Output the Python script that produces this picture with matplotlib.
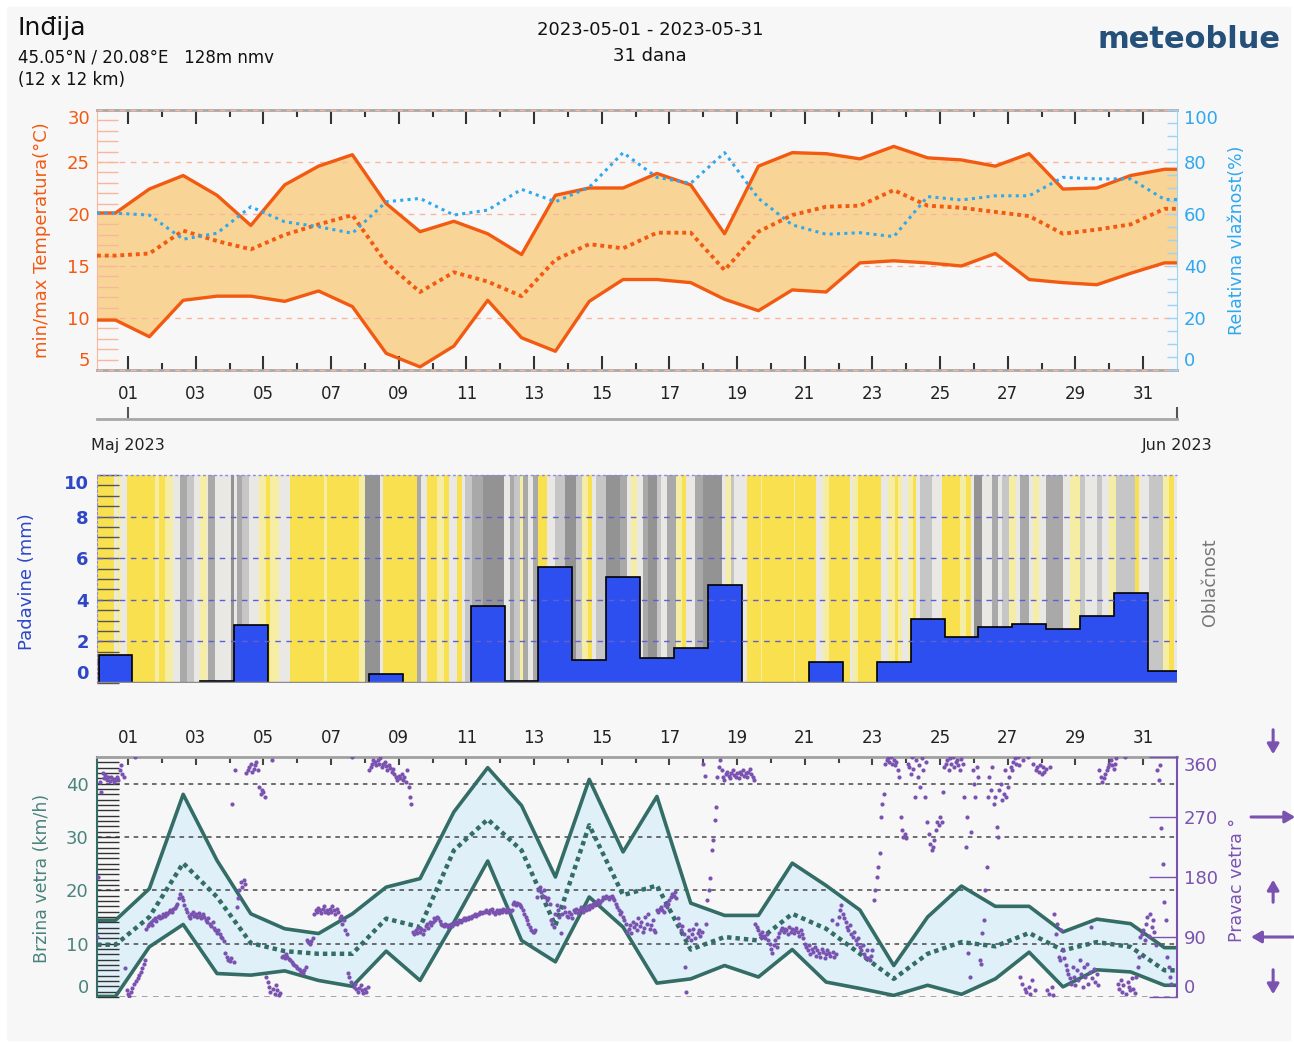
import numpy as np
import matplotlib
matplotlib.use('Agg')
import matplotlib.pyplot as plt
from matplotlib.colors import ListedColormap

# time axis: days since 2023-05-01 00:00
XMIN, XMAX = -22 / 24, 31.0
day_x = np.arange(32) - 0.37          # daily values (Apr 30 .. May 31)

t_max = [20.1, 22.4, 23.7, 21.8, 18.9, 22.8, 24.6, 25.7, 21.0, 18.3, 19.3, 18.1, 16.1, 21.8, 22.5, 22.5,
         23.9, 22.8, 18.1, 24.6, 25.9, 25.8, 25.3, 26.5, 25.4, 25.2, 24.6, 25.8, 22.4, 22.5, 23.7, 24.3]
t_min = [9.8, 8.2, 11.7, 12.1, 12.1, 11.6, 12.6, 11.1, 6.6, 5.3, 7.3, 11.7, 8.1, 6.8, 11.6, 13.7,
         13.7, 13.4, 11.8, 10.7, 12.7, 12.5, 15.3, 15.5, 15.3, 15.0, 16.2, 13.7, 13.4, 13.2, 14.3, 15.3]
t_mean = [16.0, 16.2, 18.4, 17.4, 16.6, 18.0, 19.0, 19.9, 15.3, 12.5, 14.4, 13.5, 12.1, 15.6, 17.1, 16.7,
          18.2, 18.2, 14.6, 18.3, 19.9, 20.7, 20.8, 22.3, 20.8, 20.6, 20.2, 19.8, 18.1, 18.5, 19.0, 20.5]
humidity = [60.3, 59.6, 50.3, 52.6, 62.8, 57.0, 55.1, 52.6, 64.7, 66.0, 59.6, 61.5, 69.5, 64.7, 70.3, 83.6,
            74.1, 71.8, 83.6, 66.0, 55.8, 52.2, 52.8, 51.3, 66.7, 65.4, 67.0, 67.0, 74.1, 73.5, 73.5, 65.6]

precip = [1.36, 0, 0, 0.1, 2.8, 0, 0, 0, 0.45, 0, 0, 3.7, 0.1, 5.6, 1.1, 5.1,
          1.2, 1.7, 4.7, 0, 0, 1.0, 0, 1.0, 3.1, 2.2, 2.7, 2.85, 2.6, 3.2, 4.35, 0.6]

# hourly cloud cover class, run-length coded from the left edge (0 sunny .. 5 overcast)
cloud_level = [0, 2, 1, 2, 0, 1, 0, 1, 2, 4, 3, 2, 1, 2, 4, 2, 5, 2, 4, 3, 2, 2, 1, 0, 1, 2, 0, 1, 0, 1, 5, 2,
               0, 4, 2, 0, 1, 0, 2,
               0, 2, 3, 4, 5, 2, 4, 3, 1, 4, 2, 4, 0, 2, 3, 5, 3, 1, 0, 2, 3, 5, 4, 2, 1, 2, 4, 5, 3,
               2, 4, 1, 0, 2, 4, 5, 2, 1, 3, 2, 0, 1, 0, 1, 0,
               2, 1, 0, 2, 1, 0, 2, 1, 0, 1, 2, 1, 0, 2, 3, 2, 0, 1, 0, 2, 5, 2, 4, 2, 3, 1, 2, 4, 2,
               1, 2, 4, 2, 1, 3, 2, 3, 2, 1, 3, 0, 2, 3, 1, 0, 2]
cloud_hours = [12, 2, 3, 4, 20, 3, 4, 6, 5, 5, 5, 4, 5, 1, 5, 11, 2, 2, 4, 5, 3, 4, 5, 3, 6, 8, 24, 2, 23, 4,
               11, 2, 24, 3, 4, 7, 5, 4, 5,
               4, 2, 5, 8, 15, 4, 3, 4, 2, 4, 3, 4, 6, 6, 7, 8, 4, 4, 3, 3, 7, 10, 5, 3, 4, 4, 4, 6, 3,
               4, 7, 4, 3, 6, 6, 13, 3, 4, 2, 9, 10, 1, 22, 1, 15,
               5, 4, 15, 2, 4, 16, 5, 5, 2, 3, 4, 4, 2, 3, 8, 7, 13, 4, 4, 2, 6, 7, 4, 3, 5, 5, 3, 6, 3,
               4, 5, 12, 5, 7, 4, 8, 4, 5, 5, 13, 3, 7, 10, 4, 4, 3]
cloud_colors = ['#f9e04f', '#f6eda4', '#e9e8e4', '#c6c6c6', '#a9a9a9', '#939393']

wind_max = [14.4, 20.3, 38.0, 25.6, 15.6, 12.8, 11.9, 15.6, 20.6, 22.2, 34.7, 43.0, 35.9, 22.5, 40.8, 27.2,
            37.6, 17.6, 15.3, 15.3, 25.1, 20.9, 16.3, 5.9, 15.0, 20.8, 17.0, 17.0, 12.2, 14.6, 13.75, 9.25]
wind_min = [0.1, 9.4, 13.6, 4.4, 4.1, 4.9, 3.1, 2.0, 8.6, 3.1, 14.0, 25.5, 10.6, 6.6, 18.75, 13.1,
            2.6, 3.4, 5.9, 3.75, 8.9, 2.8, 1.6, 0.3, 2.2, 0.5, 3.4, 8.4, 1.9, 5.1, 4.7, 2.2]
wind_mean = [9.8, 15.0, 25.1, 18.75, 10.1, 8.6, 8.1, 8.1, 14.7, 13.1, 27.5, 33.3, 27.5, 13.4, 32.2, 19.1,
             20.9, 8.9, 11.25, 10.6, 15.6, 12.8, 8.1, 3.4, 8.1, 10.3, 9.5, 12.0, 8.75, 10.3, 9.4, 5.0]

# hourly wind direction (deg), one row per day starting Apr 30 00:00
wind_dir = [
    [None, None, 90, 180, 322, 307, 336, 328, 333, 326, 330, 324, 330, 327, 322, 325, 330, 326, 340, 348, 335, 330, 43, 10],
    [5, 2, 8, 14, 20, 360, 24, 28, 33, 38, 44, 50, 55, 102, 106, 110, 112, 108, 115, 118, 114, 120, 122, 118],
    [120, 124, 122, 126, 125, 128, 130, 128, 132, 134, 136, 140, 148, 155, 150, 145, 138, 132, 128, 122, 118, 125, 128, 122],
    [124, 120, 126, 122, 118, 124, 120, 116, 112, 118, 110, 106, 112, 104, 100, 96, 100, 94, 90, 88, 84, 66, 60, 56],
    [54, 58, 290, 52, 340, 135, 148, 160, 172, 165, 175, 170, 336, 340, 345, 350, 338, 342, 348, 352, 340, 315, 305, 310],
    [308, 300, 30, 22, 15, 8, 355, 12, 5, 18, 10, 3, 6, 60, 62, 58, 64, 60, 57, 55, 52, 50, 48, 46],
    [44, 42, 40, 38, 36, 40, 45, 85, 82, 80, 84, 88, 125, 130, 128, 134, 130, 126, 132, 136, 128, 130, 126, 132],
    [128, 136, 130, 125, 132, 128, 118, 122, 110, 115, 100, 95, 36, 30, 22, 360, 15, 20, 12, 8, 14, 18, 10, 6],
    [12, 8, 15, 340, 345, 350, 356, 352, 348, 355, 350, 358, 345, 350, 352, 346, 340, 348, 344, 338, 342, 335, 330, 326],
    [332, 328, 335, 325, 330, 322, 340, 315, 300, 290, 98, 95, 100, 96, 104, 98, 102, 95, 100, 106, 110, 104, 112, 108],
    [112, 118, 116, 120, 118, 114, 110, 108, 106, 110, 108, 105, 108, 110, 107, 110, 112, 110, 113, 115, 112, 116, 118, 115],
    [118, 117, 120, 118, 122, 121, 124, 122, 125, 124, 127, 126, 128, 127, 130, 128, 126, 130, 132, 128, 125, 128, 130, 126],
    [130, 128, 132, 130, 128, 132, 130, 128, 130, 140, 142, 138, 141, 140, 138, 135, 130, 125, 120, 115, 110, 105, 100, 98],
    [97, 100, 150, 160, 165, 158, 152, 160, 150, 145, 148, 140, 115, 110, 105, 125, 138, 130, 120, 96, 125, 135, 128, 122],
    [120, 128, 125, 118, 130, 128, 132, 126, 130, 135, 132, 128, 134, 130, 136, 132, 138, 135, 140, 138, 142, 145, 140, 143],
    [146, 150, 148, 152, 150, 147, 150, 152, 148, 145, 140, 135, 130, 125, 128, 120, 115, 110, 98, 102, 108, 96, 112, 105],
    [110, 100, 118, 106, 112, 98, 104, 120, 110, 125, 102, 108, 115, 100, 97, 130, 128, 132, 135, 130, 128, 138, 135, 140],
    [145, 150, 155, 152, 157, 148, 118, 110, 100, 106, 95, 45, 7, 90, 100, 85, 95, 102, 88, 110, 96, 100, 92, 98],
    [350, 332, 110, 145, 160, 178, 220, 235, 265, 285, 330, 345, 355, 340, 330, 325, 335, 338, 332, 328, 336, 340, 333, 330],
    [336, 328, 338, 334, 340, 332, 336, 330, 338, 342, 335, 330, 325, 110, 105, 100, 95, 90, 98, 92, 88, 95, 85, 80],
    [72, 66, 78, 85, 75, 90, 96, 100, 104, 98, 102, 100, 95, 105, 98, 102, 96, 100, 104, 98, 92, 100, 95, 88],
    [80, 75, 70, 78, 65, 72, 68, 75, 62, 70, 66, 60, 72, 68, 58, 64, 70, 66, 62, 115, 68, 60, 64, 110],
    [120, 130, 138, 125, 118, 112, 105, 100, 108, 95, 90, 98, 85, 80, 88, 75, 70, 78, 65, 60, 70, 58, 55, 62],
    [70, 145, 160, 180, 195, 216, 270, 290, 305, 350, 355, 358, 352, 360, 350, 356, 348, 352, 340, 330, 270, 250, 240, 245],
    [238, 350, 345, 335, 360, 342, 300, 355, 330, 348, 315, 358, 340, 300, 352, 262, 245, 230, 220, 225, 235, 250, 262, 258],
    [270, 262, 307, 345, 350, 355, 340, 358, 350, 360, 345, 352, 355, 348, 340, 357, 350, 300, 225, 270, 66, 30, 247, 340],
    [320, 300, 345, 330, 55, 50, 96, 115, 160, 195, 300, 330, 310, 345, 290, 300, 255, 240, 310, 320, 295, 305, 340, 300],
    [315, 330, 345, 340, 352, 358, 350, 360, 348, 30, 20, 355, 12, 8, 360, 15, 5, 25, 350, 10, 340, 345, 338, 348],
    [335, 345, 338, 342, 10, 5, 345, 15, 3, 125, 95, 110, 60, 55, 100, 70, 58, 48, 40, 35, 28, 20, 45, 30],
    [18, 40, 25, 55, 35, 15, 45, 30, 50, 20, 38, 105, 28, 42, 22, 35, 18, 340, 330, 322, 328, 335, 340, 345],
    [350, 355, 348, 342, 350, 358, 20, 12, 25, 8, 18, 360, 5, 22, 15, 10, 28, 12, 6, 30, 45, 60, 90, 95],
    [100, 85, 110, 120, 92, 125, 105, 115, 98, 78, 340, 325, 348, 253, 200, 143, 115, 60, 45, 30, 20],
]

day_ticks = np.arange(0, 31, 2)
day_labels = ['%02d' % (d + 1) for d in day_ticks]

ORANGE = '#f25a12'
ORANGE_L = '#f8b79c'
BLUE_H = '#2fa8ee'
BLUE_P = '#2e47c8'
TEAL = '#336d65'
TEAL_L = '#4a847c'
PURPLE = '#7a52b0'

W, H = 1294, 1043
fig = plt.figure(figsize=(W / 100, H / 100), dpi=100)
fig.patch.set_facecolor('white')
fig.add_artist(plt.Rectangle((7 / W, 3 / H), 1283 / W, 1033 / H, transform=fig.transFigure,
                             color='#f7f7f7', zorder=-10))


def rect(x0, y0, x1, y1):
    return [x0 / W, 1 - y1 / H, (x1 - x0) / W, (y1 - y0) / H]


def padded(v):
    return np.r_[v[0], v, v[-1]]


x_line = np.r_[XMIN, day_x, XMAX]


def edge_labels(axis):
    ticks = axis.get_major_ticks()
    ticks[0].label1.set_va('bottom')
    ticks[-1].label1.set_va('top')
    ticks[0].label2.set_va('bottom')
    ticks[-1].label2.set_va('top')


# header
fig.text(18 / W, 1 - 28 / H, 'Inđija', fontsize=18, color='#111', va='center')
fig.text(18 / W, 1 - 57 / H, '45.05°N / 20.08°E   128m nmv', fontsize=12, color='#111', va='center')
fig.text(18 / W, 1 - 80 / H, '(12 x 12 km)', fontsize=12, color='#111', va='center')
fig.text(650 / W, 1 - 30 / H, '2023-05-01 - 2023-05-31', fontsize=13, color='#111', ha='center', va='center')
fig.text(650 / W, 1 - 56 / H, '31 dana', fontsize=13, color='#111', ha='center', va='center')
fig.text(1281 / W, 1 - 40 / H, 'meteoblue', fontsize=22, color='#24507a', ha='right', va='center',
         fontweight='bold')

# ---- temperature / humidity ----
ax_t = fig.add_axes(rect(97, 110, 1177, 370))
ax_t.set_facecolor('none')
ax_t.set_xlim(XMIN, XMAX)
ax_t.set_ylim(5, 30)
ax_t.fill_between(x_line, padded(t_min), padded(t_max), color='#f8d596', lw=0, zorder=1)
for v in (10, 15, 20, 25):
    ax_t.axhline(v, color=ORANGE_L, lw=1, ls=(0, (4, 4)), zorder=1.5)
ax_t.plot(x_line, padded(t_max), color=ORANGE, lw=2.4, zorder=3)
ax_t.plot(x_line, padded(t_min), color=ORANGE, lw=2.4, zorder=3)
ax_t.plot(x_line, padded(t_mean), color=ORANGE, lw=2.8, ls=(0, (1, 1)), zorder=3)
ax_t.set_xticks(day_ticks, day_labels)
ax_t.set_xticks(day_ticks + 1, minor=True)
ax_t.set_xticks(np.arange(1, 31, 2), minor=True)
ax_t.tick_params(axis='x', which='major', direction='in', length=10, width=1.5, color='#333',
                 top=True, bottom=True, labelsize=12, pad=11, labelcolor='#222')
ax_t.tick_params(axis='x', which='minor', direction='in', length=5, width=1.5, color='#333',
                 top=True, bottom=True)
ax_t.set_yticks([5, 10, 15, 20, 25, 30])
ax_t.set_yticks(np.arange(5, 31, 1), minor=True)
ax_t.tick_params(axis='y', which='both', direction='in', length=15, width=1, color=ORANGE_L,
                 labelcolor=ORANGE, labelsize=13, pad=5)
edge_labels(ax_t.yaxis)
for s in ('top', 'bottom'):
    ax_t.spines[s].set_color('#a8a8a8')
    ax_t.spines[s].set_linewidth(2)
ax_t.spines['left'].set_color(ORANGE_L)
ax_t.spines['right'].set_visible(False)
for v in (5, 30):
    ax_t.axhline(v, color=ORANGE_L, lw=1, ls=(0, (4, 4)), zorder=4, clip_on=False)

ax_h = ax_t.twinx()
ax_h.set_ylim(0, 100)
ax_h.plot(x_line, padded(humidity), color=BLUE_H, lw=2.2, ls=(0, (1, 1.4)), zorder=3)
ax_h.set_yticks([0, 20, 40, 60, 80, 100])
ax_h.set_yticks(np.arange(0, 101, 5), minor=True)
ax_h.tick_params(axis='y', which='both', direction='in', length=7, width=1, color='#9fd3f5',
                 labelcolor=BLUE_H, labelsize=13, pad=5)
edge_labels(ax_h.yaxis)
ax_h.spines['right'].set_color('#9fd3f5')
for s in ('top', 'bottom', 'left'):
    ax_h.spines[s].set_visible(False)

fig.text(42 / W, 1 - 240 / H, 'min/max Temperatura(°C)', rotation=90, fontsize=13, color=ORANGE,
         ha='center', va='center')
fig.text(1237 / W, 1 - 240 / H, 'Relativna vlažnost(%)', rotation=90, fontsize=12.5, color=BLUE_H,
         ha='center', va='center')

# month row
ax_d = fig.add_axes(rect(97, 418, 1177, 419))
ax_d.set_facecolor('none')
ax_d.set_xlim(XMIN, XMAX)
ax_d.set_yticks([])
for s in ('top', 'left', 'right'):
    ax_d.spines[s].set_visible(False)
ax_d.spines['bottom'].set_color('#a8a8a8')
ax_d.spines['bottom'].set_linewidth(2)
ax_d.set_xticks([0, 31], ['Maj 2023', 'Jun 2023'])
ax_d.tick_params(axis='x', direction='in', length=9, width=1.5, color='#555', labelsize=11.5,
                 pad=14, labelcolor='#222')

# ---- precipitation / cloud cover ----
ax_p = fig.add_axes(rect(97, 475, 1177, 683))
ax_p.set_facecolor('none')
ax_p.set_xlim(XMIN, XMAX)
ax_p.set_ylim(0, 10)
levels = np.repeat(cloud_level, cloud_hours)
hour_edges = (XMIN * 24 + np.arange(len(levels) + 1)) / 24
ax_p.pcolormesh(hour_edges, [0, 10], levels[None, :], cmap=ListedColormap(cloud_colors),
                vmin=-0.5, vmax=5.5, shading='flat', zorder=0)
bar_edges = np.r_[day_x - 0.5, day_x[-1] + 0.5]
ax_p.stairs(precip, bar_edges, fill=True, color='#2d4ff0', zorder=2)
ax_p.stairs(precip, bar_edges, color='black', lw=1.2, zorder=3)
ax_p.axhline(0, color='#8c8c8c', lw=2.5, zorder=3.5)
for v in (2, 4, 6, 8):
    ax_p.axhline(v, color='#5f5fcf', lw=1, ls=(0, (4, 4)), zorder=4)
ax_p.axhline(10, color='#8a8ae6', lw=1, ls=(0, (2, 2)), zorder=4, clip_on=False)
ax_p.set_xticks([])
ax_p.set_yticks(np.arange(0, 11, 2))
ax_p.set_yticks(np.arange(0, 10.1, 0.5), minor=True)
ax_p.tick_params(axis='y', which='both', direction='in', length=16, width=1, color='#555',
                 labelcolor=BLUE_P, labelsize=13, pad=6)
for lab in ax_p.get_yticklabels():
    lab.set_fontweight('bold')
edge_labels(ax_p.yaxis)
for s in ('top', 'bottom', 'right'):
    ax_p.spines[s].set_visible(False)
ax_p.spines['left'].set_color('#8a8ae6')
ax_p.spines['left'].set_linestyle((0, (2, 2)))
fig.text(27 / W, 1 - 582 / H, 'Padavine (mm)', rotation=90, fontsize=13, color=BLUE_P,
         ha='center', va='center')
fig.text(1210 / W, 1 - 582 / H, 'Oblačnost', rotation=90, fontsize=12.5, color='#777',
         ha='center', va='center')

# ---- wind ----
ax_w = fig.add_axes(rect(97, 757, 1177, 997))
ax_w.set_facecolor('none')
ax_w.set_xlim(XMIN, XMAX)
ax_w.set_ylim(0, 45)
ax_w.fill_between(x_line, padded(wind_min), padded(wind_max), color='#dff0f9', lw=0, zorder=1)
for v in (10, 20, 30, 40):
    ax_w.axhline(v, color='#474747', lw=1.1, ls=(0, (3, 3)), zorder=1.5)
ax_w.axhline(0, color='#9a9a9a', lw=2, ls=(0, (2, 2)), zorder=1.5)
ax_w.plot(x_line, padded(wind_max), color=TEAL, lw=2.6, zorder=3)
ax_w.plot(x_line, padded(wind_min), color=TEAL, lw=2.6, zorder=3)
ax_w.plot(x_line, padded(wind_mean), color=TEAL, lw=3.2, ls=(0, (1, 0.9)), zorder=3)
ax_w.xaxis.tick_top()
ax_w.set_xticks(day_ticks, day_labels)
ax_w.set_xticks(np.arange(1, 31, 2), minor=True)
ax_w.tick_params(axis='x', which='major', direction='in', length=6, width=1.5, color='#444',
                 labelsize=12, pad=7, labelcolor='#222')
ax_w.tick_params(axis='x', which='minor', direction='in', length=4, width=1.5, color='#444')
ax_w.set_yticks([0, 10, 20, 30, 40])
ax_w.set_yticks(np.arange(0, 46, 1), minor=True)
ax_w.tick_params(axis='y', which='both', direction='in', length=16, width=1, color='#333',
                 labelcolor=TEAL_L, labelsize=13, pad=6)
ax_w.yaxis.get_major_ticks()[0].label1.set_va('bottom')
ax_w.spines['top'].set_color('#a0a0a0')
ax_w.spines['top'].set_linewidth(2)
ax_w.spines['bottom'].set_visible(False)
ax_w.spines['left'].set_color(TEAL)
ax_w.spines['left'].set_linewidth(1.5)
ax_w.spines['right'].set_visible(False)

ax_wd = ax_w.twinx()
ax_wd.set_ylim(0, 360)
dir_t, dir_v = [], []
for d, row in enumerate(wind_dir):
    for hr, val in enumerate(row):
        if val is not None:
            dir_t.append((d * 24 + hr - 24) / 24)
            dir_v.append(val)
ax_wd.scatter(dir_t, dir_v, s=9, color=PURPLE, lw=0, zorder=5, clip_on=True)
ax_wd.set_yticks([0, 90, 180, 270, 360])
ax_wd.tick_params(axis='y', direction='in', length=20, width=1, color=PURPLE,
                  labelcolor=PURPLE, labelsize=13, pad=5)
edge_labels(ax_wd.yaxis)
ax_wd.spines['right'].set_color(PURPLE)
ax_wd.spines['right'].set_linewidth(1.5)
for s in ('top', 'bottom', 'left'):
    ax_wd.spines[s].set_visible(False)

# direction glyphs
arrow_kw = dict(arrowstyle='-|>,head_length=0.6,head_width=0.35', color=PURPLE, lw=2.2)
tr = ('axes fraction', 'data')
for val in (360, 180, 0):
    if val == 180:
        ax_wd.annotate('', xy=(1.089, val), xytext=(1.089, val - 42), xycoords=tr, textcoords=tr,
                       arrowprops=arrow_kw, annotation_clip=False)
    else:
        ax_wd.annotate('', xy=(1.089, val), xytext=(1.089, val + 45), xycoords=tr, textcoords=tr,
                       arrowprops=arrow_kw, annotation_clip=False)
ax_wd.annotate('', xy=(1.112, 270), xytext=(1.066, 270), xycoords=tr, textcoords=tr,
               arrowprops=arrow_kw, annotation_clip=False)
ax_wd.annotate('', xy=(1.066, 90), xytext=(1.112, 90), xycoords=tr, textcoords=tr,
               arrowprops=arrow_kw, annotation_clip=False)

fig.text(42 / W, 1 - 878 / H, 'Brzina vetra (km/h)', rotation=90, fontsize=12.5, color=TEAL_L,
         ha='center', va='center')
fig.text(1237 / W, 1 - 880 / H, 'Pravac vetra °', rotation=90, fontsize=12.5, color=PURPLE,
         ha='center', va='center')

fig.savefig('out.png', dpi=100, facecolor=fig.get_facecolor())
